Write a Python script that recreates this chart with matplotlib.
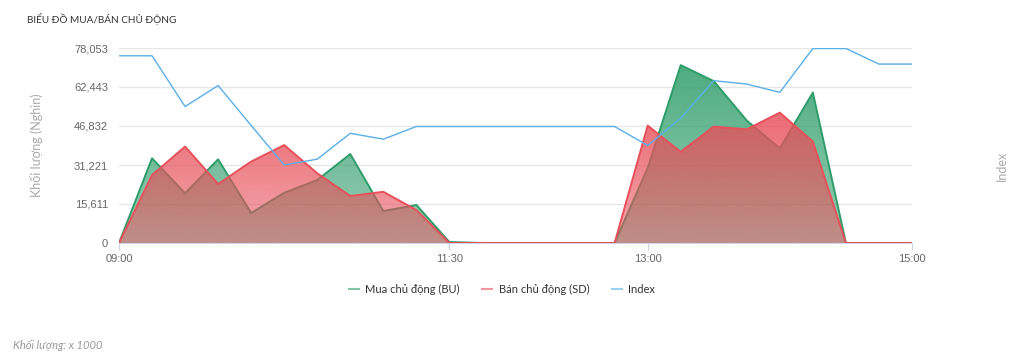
import matplotlib
matplotlib.use("Agg")
import matplotlib.pyplot as plt
from matplotlib.colors import to_rgb
import numpy as np

plt.rcParams['font.family'] = ['Lato', 'DejaVu Sans']

# Dữ liệu: mỗi 15 phút từ 09:00 đến 15:00
times = ["09:00", "09:15", "09:30", "09:45", "10:00", "10:15", "10:30", "10:45",
         "11:00", "11:15", "11:30", "11:45", "12:00", "12:15", "12:30", "12:45",
         "13:00", "13:15", "13:30", "13:45", "14:00", "14:15", "14:30", "14:45", "15:00"]
mua_bu = [0, 33900, 19900, 33500, 12000, 20100, 25200, 35600, 12800, 15200, 400,
          0, 0, 0, 0, 0,
          30000, 71200, 64800, 49000, 37900, 60200, 0, 0, 0]
ban_sd = [0, 27200, 38600, 23600, 32600, 39200, 27900, 18800, 20500, 13200, 0,
          0, 0, 0, 0, 0,
          47000, 36500, 46600, 45500, 52200, 40600, 0, 0, 0]
index = [1208.4, 1208.4, 1198.0, 1202.3, 1194.1, 1186.0, 1187.2, 1192.5, 1191.3, 1193.9, 1193.9,
         1193.9, 1193.9, 1193.9, 1193.9, 1193.9,
         1190.0, 1195.6, 1203.3, 1202.6, 1200.9, 1209.9, 1209.9, 1206.7, 1206.7]

y_ticks = [0, 15611, 31221, 46832, 62443, 78053]
x_ticks = ["09:00", "11:30", "13:00", "15:00"]


def to_min(t):
    h, m = t.split(":")
    return (int(h) - 9) * 60 + int(m)


x = np.array([to_min(t) for t in times])

green = "#2e9d6a"
red = "#e8505b"
blue = "#5aafe8"
ymax = 78053

fig = plt.figure(figsize=(10.24, 3.63), dpi=100)
ax = fig.add_axes([119 / 1024, 120 / 363, 793 / 1024, 195 / 363])


# Vùng tô có gradient (đậm ở trên, nhạt ở dưới)
def gradient_area(ax, x, y, color, z):
    poly = ax.fill_between(x, y, facecolor="none", lw=0, zorder=z)
    img = np.zeros((256, 1, 4))
    img[:, :, :3] = to_rgb(color)
    img[:, 0, 3] = np.linspace(0.5, 0.85, 256)
    im = ax.imshow(img, extent=[0, 360, 0, max(y)], aspect="auto",
                   origin="lower", zorder=z)
    im.set_clip_path(poly.get_paths()[0], transform=ax.transData)
    ax.plot(x, y, color=color, lw=1.4, zorder=z + 0.1)


gradient_area(ax, x, mua_bu, green, 2)
gradient_area(ax, x, ban_sd, red, 3)

ax.set_xlim(0, 360)
ax.set_ylim(0, ymax)
ax.set_yticks(y_ticks)
ax.set_yticklabels([f"{v:,}" for v in y_ticks], family=["Liberation Sans", "DejaVu Sans"])
ax.set_xticks([to_min(t) for t in x_ticks])
ax.set_xticklabels(x_ticks, family=["Liberation Sans", "DejaVu Sans"])
ax.grid(axis="y", color="#e6e6e6", lw=1)
ax.set_axisbelow(True)
for s in ["top", "right", "left"]:
    ax.spines[s].set_visible(False)
ax.spines["bottom"].set_color("#ccd6eb")
ax.tick_params(axis="y", length=0, labelsize=8, colors="#666666", pad=8)
ax.tick_params(axis="x", length=5, color="#ccd6eb", labelsize=8, colors="#666666", pad=3)
ax.set_ylabel("Khối lượng (Nghìn)", color="#aaaaaa", fontsize=9, labelpad=22)

# Trục Index bên phải
ax2 = ax.twinx()
ax2.plot(x, index, color=blue, lw=1)
ax2.set_ylim(1170, 1210)
ax2.set_yticks([])
for s in ax2.spines.values():
    s.set_visible(False)
fig.text(1002 / 1024, 1 - 166 / 363, "Index", color="#aaaaaa", fontsize=9,
         rotation=90, ha="center", va="center")

fig.text(27 / 1024, 1 - 19 / 363, "BIỂU ĐỒ MUA/BÁN CHỦ ĐỘNG", fontsize=7.2,
         color="#333333", va="center")
fig.text(13 / 1024, 1 - 345 / 363, "Khối lượng: x 1000", fontsize=8,
         color="#999999", style="italic", va="center")

# Chú thích
handles = [plt.Line2D([], [], color=c, lw=1.5, alpha=0.6) for c in (green, red, blue)]
fig.legend(handles, ["Mua chủ động (BU)", "Bán chủ động (SD)", "Index"],
           loc="center", bbox_to_anchor=(502 / 1024, 1 - 289 / 363), ncol=3, frameon=False,
           fontsize=8, handlelength=0.9, columnspacing=2.0, handletextpad=0.6,
           labelcolor="#333333")

fig.savefig("out.png", dpi=100)
